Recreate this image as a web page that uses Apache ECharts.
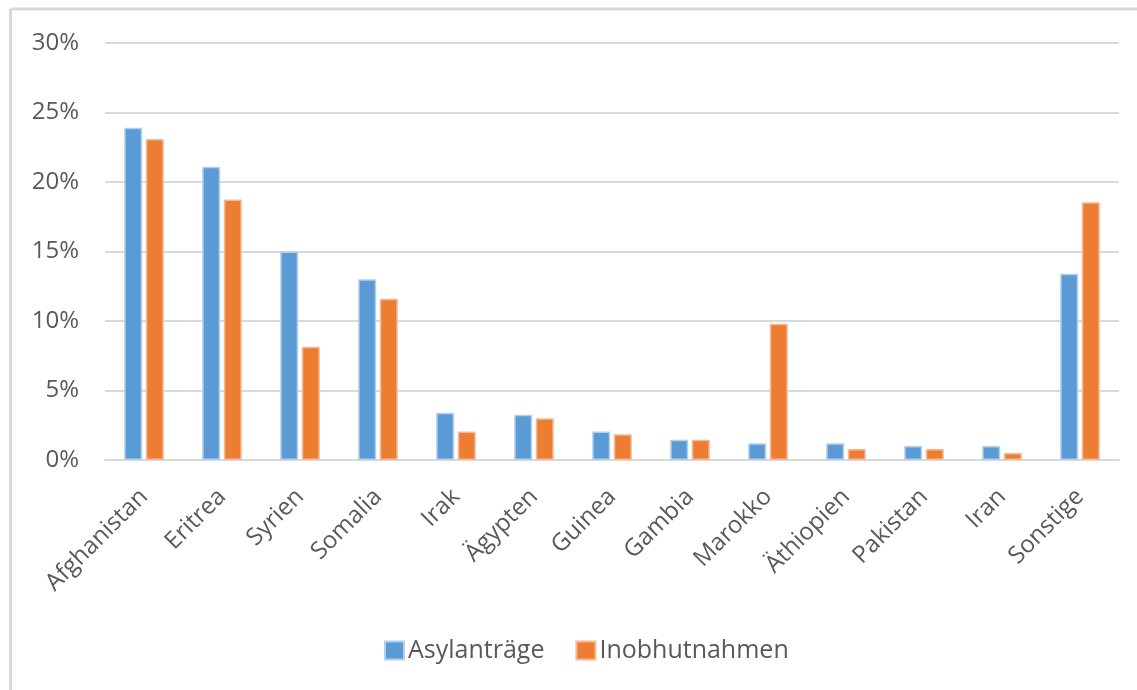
<!DOCTYPE html>
<html>
<head>
<meta charset="utf-8">
<style>
  html, body { margin: 0; padding: 0; background: #ffffff; }
  #chart { width: 1137px; height: 690px; }
</style>
<script src="https://cdn.jsdelivr.net/npm/echarts@6/dist/echarts.min.js"></script>
</head>
<body>
<div id="chart"></div>
<script>
// Herkunftsländer: Anteil an Asylanträgen und Inobhutnahmen (in %)
const categories = ['Afghanistan', 'Eritrea', 'Syrien', 'Somalia', 'Irak', 'Ägypten', 'Guinea',
  'Gambia', 'Marokko', 'Äthiopien', 'Pakistan', 'Iran', 'Sonstige'];
const asylantraege = [23.9, 21.1, 15.0, 13.0, 3.4, 3.25, 2.05, 1.45, 1.2, 1.2, 1.0, 1.0, 13.4];
const inobhutnahmen = [23.1, 18.75, 8.15, 11.6, 2.05, 3.0, 1.85, 1.45, 9.8, 0.8, 0.8, 0.5, 18.55];
const seriesNames = ['Asylanträge', 'Inobhutnahmen'];

const FONT = '"Open Sans", "Liberation Sans", Arial, sans-serif';
const TEXT = '#595959';
const GRID = '#d9d9d9';

const chart = echarts.init(document.getElementById('chart'), null, { renderer: 'canvas' });

chart.setOption({
  animation: false,
  backgroundColor: '#ffffff',
  textStyle: { fontFamily: FONT },
  graphic: [
    { type: 'line', shape: { x1: 10.5, y1: 9, x2: 1137, y2: 9 }, style: { stroke: GRID, lineWidth: 3 }, silent: true },
    { type: 'line', shape: { x1: 10.5, y1: 9, x2: 10.5, y2: 690 }, style: { stroke: GRID, lineWidth: 3 }, silent: true }
  ],
  legend: {
    left: 379,
    top: 633,
    itemWidth: 19,
    itemHeight: 18,
    itemGap: 31,
    icon: 'rect',
    textStyle: { color: TEXT, fontSize: 25, fontFamily: FONT, padding: [0, 0, 0, -1] },
    data: seriesNames
  },
  grid: { left: 105, right: 18, top: 43, bottom: 230, containLabel: false },
  xAxis: {
    type: 'category',
    data: categories,
    axisLine: { show: true, lineStyle: { color: GRID, width: 2 } },
    axisTick: { show: false },
    axisLabel: { color: TEXT, fontSize: 24, fontFamily: FONT, rotate: 45, margin: 33, interval: 0 }
  },
  yAxis: {
    type: 'value',
    min: 0,
    max: 30,
    interval: 5,
    axisLine: { show: false },
    axisTick: { show: false },
    splitLine: { lineStyle: { color: GRID, width: 2 } },
    axisLabel: { color: TEXT, fontSize: 24, fontFamily: FONT, margin: 26, formatter: '{value}%' }
  },
  series: [
    {
      name: seriesNames[0],
      type: 'bar',
      data: asylantraege,
      barWidth: 18,
      barGap: '20%',
      itemStyle: { color: '#5b9bd5', borderColor: '#b4cfec', borderWidth: 1.5 }
    },
    {
      name: seriesNames[1],
      type: 'bar',
      data: inobhutnahmen,
      barWidth: 18,
      itemStyle: { color: '#ed7d31', borderColor: '#f6b998', borderWidth: 1.5 }
    }
  ]
});
</script>
</body>
</html>
